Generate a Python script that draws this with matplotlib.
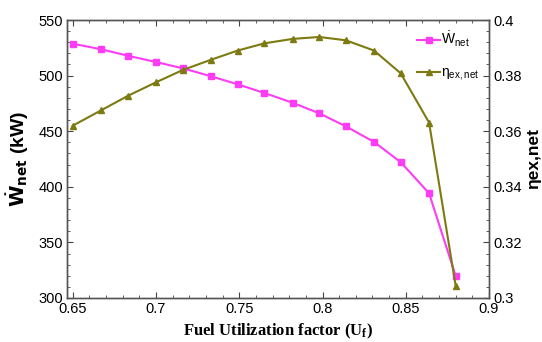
import numpy as np
import matplotlib
matplotlib.use("Agg")
import matplotlib.pyplot as plt
from matplotlib.ticker import MultipleLocator

plt.rcParams['font.family'] = ['Liberation Sans', 'DejaVu Sans']
plt.rcParams['mathtext.default'] = 'regular'

# data
uf = [0.65, 0.667, 0.683, 0.70, 0.716, 0.733, 0.749, 0.765,
      0.782, 0.798, 0.814, 0.831, 0.847, 0.864, 0.880]
w_net = [528.7, 523.7, 517.9, 512.2, 506.6, 499.4, 492.2, 484.4,
         475.6, 466.1, 454.4, 440.3, 422.1, 394.2, 319.8]
eta_ex = [0.3620, 0.3675, 0.3727, 0.3776, 0.3820, 0.3857, 0.3890, 0.3916,
          0.3932, 0.3939, 0.3927, 0.3890, 0.3808, 0.3631, 0.3043]

pink = '#ff3cf5'
olive = '#7d7a12'

fig = plt.figure(figsize=(5.42, 3.42), dpi=100)
ax1 = fig.add_axes([0.1236, 0.1287, 0.7786, 0.8128])
ax2 = ax1.twinx()

l1, = ax1.plot(uf, w_net, color=pink, lw=1.5, marker='s', ms=5,
               label=r'$\dot{W}_{net}$')
l2, = ax2.plot(uf, eta_ex, color=olive, lw=1.5, marker='^', ms=4.5,
               label=r'$\eta_{ex,net}$')

ax1.set_xlim(0.6465, 0.9)
ax1.set_ylim(300, 550)
ax2.set_ylim(0.3, 0.4)

ax1.xaxis.set_minor_locator(MultipleLocator(0.01))
ax1.yaxis.set_major_locator(MultipleLocator(50))
ax1.yaxis.set_minor_locator(MultipleLocator(10))
ax2.yaxis.set_minor_locator(MultipleLocator(0.004))
ax1.set_xticks([0.65, 0.7, 0.75, 0.8, 0.85, 0.9])
ax1.set_xticklabels(['0.65', '0.7', '0.75', '0.8', '0.85', '0.9'])
ax2.set_yticks([0.3, 0.32, 0.34, 0.36, 0.38, 0.4])
ax2.set_yticklabels(['0.3', '0.32', '0.34', '0.36', '0.38', '0.4'])

ax1.tick_params(which='both', direction='in', top=True, labelsize=10.5,
                color='#444444', pad=3)
ax1.tick_params(which='major', length=4)
ax1.tick_params(which='minor', length=2.5)
ax2.tick_params(which='both', direction='in', labelsize=10.5,
                color='#444444', pad=3)
ax2.tick_params(which='major', length=4)
ax2.tick_params(which='minor', length=2.5)
for ax in (ax1, ax2):
    for s in ax.spines.values():
        s.set_color('#555555')
        s.set_linewidth(1.0)

ax1.set_xlabel('Fuel Utilization factor (U$_f$)', family='Liberation Serif',
               fontsize=12, fontweight='bold', labelpad=4)
ax1.set_ylabel(r'$\dot{\mathbf{W}}_{\mathbf{net}}$ (kW)', fontsize=14,
               fontweight='bold', labelpad=5)
ax2.set_ylabel('ηex,net', fontsize=12.5, fontweight='bold',
               rotation=90, labelpad=3)

ax1.legend([l1, l2], [l1.get_label(), l2.get_label()], loc='upper right',
           frameon=False, fontsize=10, handlelength=1.6, handletextpad=0.1,
           labelspacing=1.2, borderaxespad=0.3)

fig.savefig('out.png', dpi=100, facecolor='white')
